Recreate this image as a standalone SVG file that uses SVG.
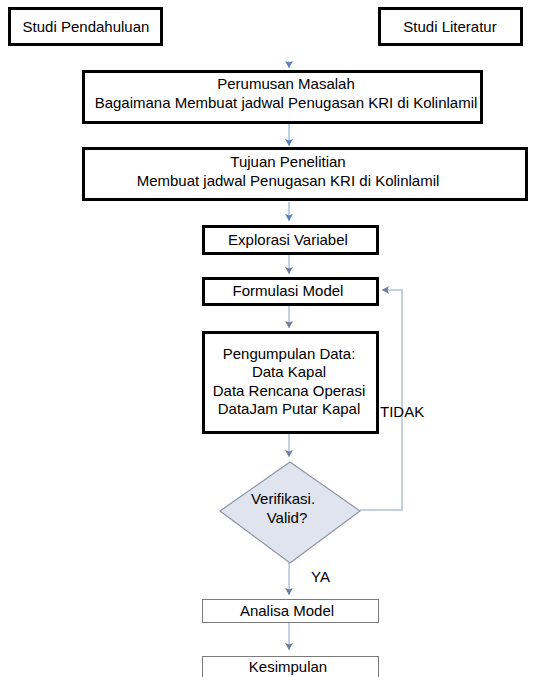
<svg xmlns="http://www.w3.org/2000/svg" width="547" height="677" viewBox="0 0 547 677">
<style>
.box{fill:#fff;stroke:#000;stroke-width:3}
.thin{fill:#fff;stroke:#7a7a7a;stroke-width:1}
.t{font-family:"Liberation Sans",Arial,sans-serif;font-size:15px;fill:#000;text-anchor:middle}
.tl{font-family:"Liberation Sans",Arial,sans-serif;font-size:15px;fill:#000}
.c{fill:none;stroke:#a9c0e2;stroke-width:1.5}
.c2{fill:none;stroke:#b4c2d8;stroke-width:1.5}
</style>
<defs>
<marker id="ah" markerUnits="userSpaceOnUse" markerWidth="8" markerHeight="8" viewBox="0 0 8 8" refX="7" refY="4" orient="auto">
<path d="M0,0 L7,4 L0,8 L1.5,4 Z" fill="#5781be"/>
</marker>
<marker id="ah2" markerUnits="userSpaceOnUse" markerWidth="8" markerHeight="8" viewBox="0 0 8 8" refX="7" refY="4" orient="auto">
<path d="M0,0 L7,4 L0,8 L1.5,4 Z" fill="#6d7e9c"/>
</marker>
</defs>
<g id="connectors">
<path class="c" d="M289,61 V68" marker-end="url(#ah)"/>
<path class="c" d="M289,124 V146" marker-end="url(#ah)"/>
<path class="c" d="M289,202 V221" marker-end="url(#ah)"/>
<path class="c2" d="M289,255 V274" marker-end="url(#ah2)"/>
<path class="c2" d="M289,306 V328" marker-end="url(#ah2)"/>
<path class="c2" d="M289,434 V457" marker-end="url(#ah2)"/>
<path class="c2" d="M289,563 V595" marker-end="url(#ah2)"/>
<path class="c2" d="M289,623 V650" marker-end="url(#ah2)"/>
<path class="c2" d="M360,510 H402 V290 H382" marker-end="url(#ah2)"/>
<text class="tl" x="380" y="417">TIDAK</text>
<text class="tl" x="311" y="582">YA</text>
</g>
<g id="studi-pendahuluan">
<rect class="box" x="9.5" y="8.5" width="152" height="36"/>
<text class="t" x="86" y="32">Studi Pendahuluan</text>
</g>
<g id="studi-literatur">
<rect class="box" x="379.5" y="8.5" width="142" height="36"/>
<text class="t" x="450" y="32">Studi Literatur</text>
</g>
<g id="perumusan">
<rect class="box" x="83.5" y="71.5" width="398" height="51"/>
<text class="t" x="286" y="89">Perumusan Masalah</text>
<text class="t" x="286" y="108">Bagaimana Membuat jadwal Penugasan KRI di Kolinlamil</text>
</g>
<g id="tujuan">
<rect class="box" x="83.5" y="148.5" width="443" height="51"/>
<text class="t" x="288" y="167">Tujuan Penelitian</text>
<text class="t" x="288" y="186">Membuat jadwal Penugasan KRI di Kolinlamil</text>
</g>
<g id="explorasi">
<rect class="box" x="203.5" y="226.5" width="174" height="27"/>
<text class="t" x="288" y="245">Explorasi Variabel</text>
</g>
<g id="formulasi">
<rect class="box" x="203.5" y="278.5" width="174" height="26"/>
<text class="t" x="288" y="296">Formulasi Model</text>
</g>
<g id="pengumpulan">
<rect class="box" x="203.5" y="332.5" width="174" height="100"/>
<text class="t" x="289" y="359">Pengumpulan Data:</text>
<text class="t" x="289" y="377">Data Kapal</text>
<text class="t" x="289" y="396">Data Rencana Operasi</text>
<text class="t" x="289" y="414">DataJam Putar Kapal</text>
</g>
<g id="verifikasi">
<polygon points="290,462 360,511 290,563 220,511" fill="#dfe4ee" stroke="#8c96a6" stroke-width="1.2"/>
<text class="t" x="283" y="504">Verifikasi.</text>
<text class="t" x="287" y="523">Valid?</text>
</g>
<g id="analisa">
<rect class="thin" x="202.5" y="599.5" width="176" height="23"/>
<text class="t" x="287" y="616">Analisa Model</text>
</g>
<g id="kesimpulan">
<rect class="thin" x="202.5" y="656.5" width="176" height="30"/>
<text class="t" x="288" y="672">Kesimpulan</text>
</g>
</svg>
